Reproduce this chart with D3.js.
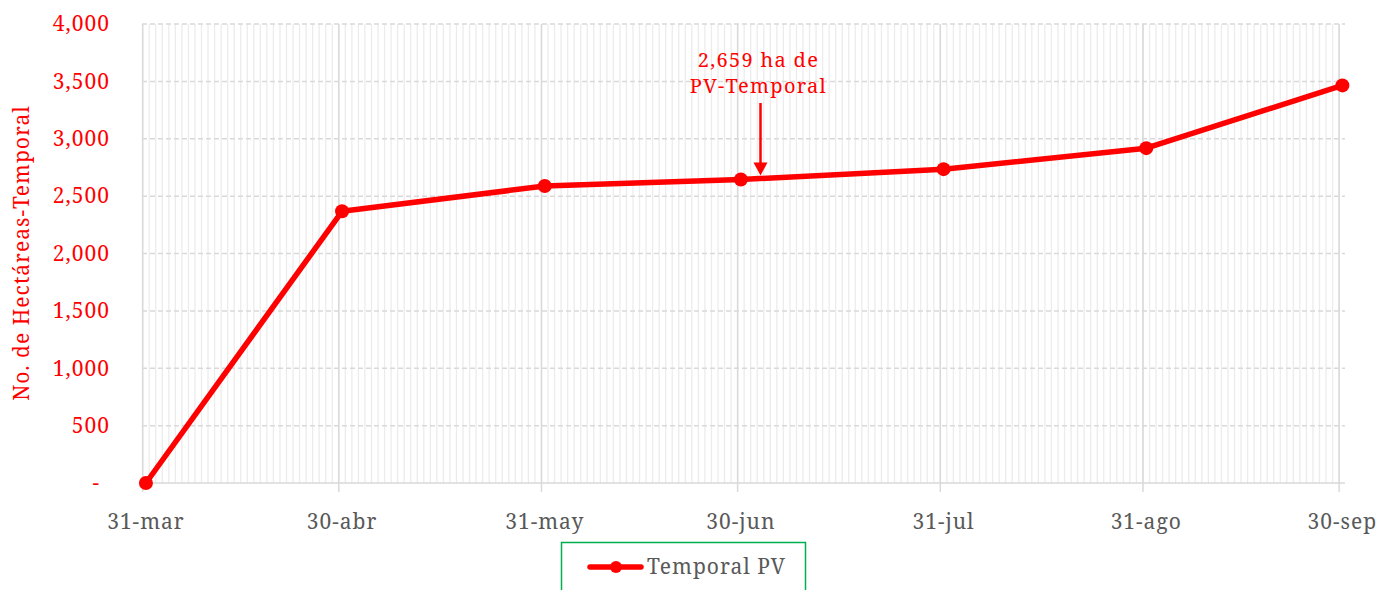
<!DOCTYPE html>
<html><head><meta charset="utf-8">
<script src="https://cdn.jsdelivr.net/npm/d3@7"></script>
<style>
body{margin:0;background:#fff;}
text{font-family:"Noto Serif","DejaVu Serif","Liberation Serif",serif;letter-spacing:1px;}
</style></head>
<body><svg id="c" width="1380" height="590"></svg>
<script>
const categories = ["31-mar","30-abr","31-may","30-jun","31-jul","31-ago","30-sep"];
const dayIndex = [0,30,61,91,122,153,183];
const values = [0,2368,2588,2645,2735,2918,3465];
const yTicks = [0,500,1000,1500,2000,2500,3000,3500,4000];
const annotationLines = ["2,659 ha de","PV-Temporal"];
const annotationDay = 94, annotationValue = 2680;
const seriesName = "Temporal PV";
const totalDays = 183;

const svg = d3.select("#c");
const L=142, R=1345, T=24, B=483;
const x = d3.scaleLinear().domain([-0.6, totalDays+0.4]).range([L,R]);
const y = d3.scaleLinear().domain([0,4000]).range([B,T]);
const red="#ff0000";

const g = svg.append("g");
g.selectAll(".mv").data(d3.range(0,totalDays+1)).join("line")
 .attr("x1",d=>x(d-0.5)).attr("x2",d=>x(d-0.5)).attr("y1",T).attr("y2",B)
 .attr("stroke","#ececec").attr("stroke-width",1.3);
g.selectAll(".hg").data(yTicks.slice(1)).join("line")
 .attr("x1",L).attr("x2",R).attr("y1",d=>y(d)).attr("y2",d=>y(d))
 .attr("stroke","#d9d9d9").attr("stroke-width",1.5).attr("stroke-dasharray","5,3");
g.selectAll(".Mv").data(dayIndex).join("line")
 .attr("x1",d=>x(d-0.5)).attr("x2",d=>x(d-0.5)).attr("y1",T).attr("y2",B+9)
 .attr("stroke","#d9d9d9").attr("stroke-width",1.5);
g.append("line").attr("x1",L).attr("x2",R).attr("y1",B).attr("y2",B)
 .attr("stroke","#d9d9d9").attr("stroke-width",1.5);

svg.append("g").selectAll("text").data(yTicks).join("text")
 .attr("x",d=>d===0?100:110).attr("y",d=>y(d)).attr("dy","0.35em")
 .attr("text-anchor","end").attr("fill",red).attr("font-size",21)
 .text(d=>d===0?"-":d3.format(",")(d));
svg.append("text").attr("transform","translate(29,253) rotate(-90)")
 .attr("text-anchor","middle").attr("fill",red).attr("font-size",21)
 .text("No. de Hectáreas-Temporal");
svg.append("g").selectAll("text").data(categories).join("text")
 .attr("x",(d,i)=>x(dayIndex[i])).attr("y",529).attr("text-anchor","middle")
 .attr("fill","#595959").attr("font-size",21).text(d=>d);

const pts = values.map((v,i)=>[x(dayIndex[i]),y(v)]);
svg.append("path").attr("d",d3.line()(pts)).attr("fill","none")
 .attr("stroke",red).attr("stroke-width",5.5).attr("stroke-linejoin","round");
svg.append("g").selectAll("circle").data(pts).join("circle")
 .attr("cx",d=>d[0]).attr("cy",d=>d[1]).attr("r",7).attr("fill",red);

const ax = x(annotationDay);
svg.append("g").selectAll("text").data(annotationLines).join("text")
 .attr("x",ax-2).attr("y",(d,i)=>67+i*26).attr("text-anchor","middle")
 .attr("fill",red).attr("font-size",20).style("letter-spacing","1.3px").text(d=>d);
const tipY = y(annotationValue);
svg.append("line").attr("x1",ax).attr("x2",ax).attr("y1",103).attr("y2",tipY-10)
 .attr("stroke",red).attr("stroke-width",2.5);
svg.append("path").attr("d",`M${ax-7},${tipY-13}L${ax+7},${tipY-13}L${ax},${tipY}Z`).attr("fill",red);

svg.append("rect").attr("x",561.5).attr("y",542.5).attr("width",244).attr("height",60)
 .attr("fill","#fff").attr("stroke","#00b050").attr("stroke-width",1.5);
svg.append("line").attr("x1",590).attr("x2",641).attr("y1",567).attr("y2",567)
 .attr("stroke",red).attr("stroke-width",5.5).attr("stroke-linecap","round");
svg.append("circle").attr("cx",616).attr("cy",567).attr("r",6).attr("fill",red);
svg.append("text").attr("x",647).attr("y",567).attr("dy","0.35em")
 .attr("fill","#595959").attr("font-size",21).text(seriesName);
</script></body></html>
